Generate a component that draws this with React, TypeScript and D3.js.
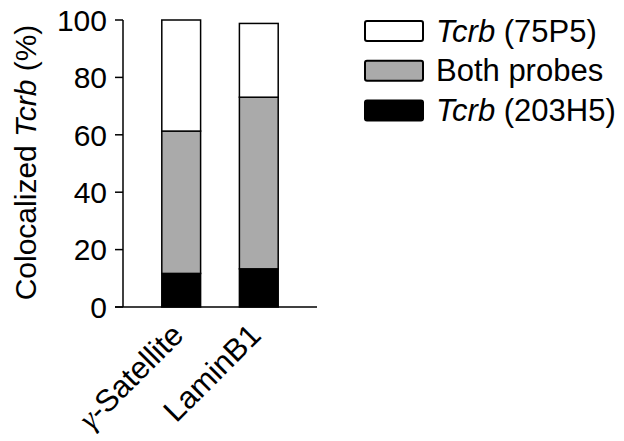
import * as d3 from 'd3';

const categories = ['γ-Satellite', 'LaminB1'];
const black203 = [11.7, 13.3];
const bothProbes = [49.6, 59.8];
const white75 = [38.7, 25.7];
const yTicks = [0, 20, 40, 60, 80, 100];

const series = [
  { key: 'black', values: black203, fill: '#000000' },
  { key: 'both', values: bothProbes, fill: '#aaaaaa' },
  { key: 'white', values: white75, fill: '#ffffff' },
];

const legend = [
  { fill: '#ffffff', italic: 'Tcrb', rest: ' (75P5)' },
  { fill: '#aaaaaa', italic: '', rest: 'Both probes' },
  { fill: '#000000', italic: 'Tcrb', rest: ' (203H5)' },
];

const font = '"Liberation Sans", Arial, sans-serif';

const App = () => {
  const x0 = 123;
  const x1 = 317;
  const yTop = 20;
  const yBot = 307;

  const x = d3.scaleBand<string>()
    .domain(categories)
    .range([x0, x1])
    .paddingInner(0.5)
    .paddingOuter(0.5);

  const y = d3.scaleLinear().domain([0, 100]).range([yBot, yTop]);

  const rows = categories.map((c, i) => {
    let acc = 0;
    return series.map(s => {
      const lo = acc;
      acc += s.values[i];
      return { cat: c, lo, hi: acc, fill: s.fill, key: s.key };
    });
  });

  return (
    <svg width={624} height={441} style={{ position: 'absolute', left: 0, top: 0 }} fontFamily={font}>
      <rect width={624} height={441} fill="#fff" />
      {/* axes */}
      <line x1={x0} x2={x0} y1={yTop} y2={yBot} stroke="#000" strokeWidth={1.5} />
      <line x1={x0 - 8} x2={x1} y1={yBot} y2={yBot} stroke="#000" strokeWidth={1.5} />
      {yTicks.map(t => (
        <g key={t}>
          <line x1={x0 - 8} x2={x0} y1={y(t)} y2={y(t)} stroke="#000" strokeWidth={1.5} />
          <text x={x0 - 16} y={y(t)} dy="0.36em" textAnchor="end" fontSize={30}>{t}</text>
        </g>
      ))}
      <text transform={`translate(36,${(yTop + yBot) / 2 - 1}) rotate(-90)`} textAnchor="middle" fontSize={30}>
        Colocalized <tspan fontStyle="italic">Tcrb</tspan> (%)
      </text>

      {rows.flat().map(r => (
        <rect
          key={r.cat + r.key}
          x={x(r.cat)}
          y={y(r.hi)}
          width={x.bandwidth()}
          height={y(r.lo) - y(r.hi)}
          fill={r.fill}
          stroke="#000"
          strokeWidth={1.5}
        />
      ))}

      {categories.map(c => {
        const cx = (x(c) as number) + x.bandwidth() / 2;
        return (
          <text key={c} transform={`translate(${cx + 4},${yBot + 30}) rotate(-45)`} textAnchor="end" fontSize={31}>
            {c.startsWith('γ') ? (<><tspan fontStyle="italic" fontFamily='"Liberation Serif", serif'>γ</tspan>{c.slice(1)}</>) : c}
          </text>
        );
      })}

      {legend.map((l, i) => (
        <g key={i} transform={`translate(365,${21 + i * 39.7})`}>
          <rect x={0} y={0} width={58} height={20} rx={2} fill={l.fill} stroke="#000" strokeWidth={2} />
          <text x={71} y={20.5} fontSize={31}>
            {l.italic && <tspan fontStyle="italic">{l.italic}</tspan>}{l.rest}
          </text>
        </g>
      ))}
    </svg>
  );
};

export default App;
